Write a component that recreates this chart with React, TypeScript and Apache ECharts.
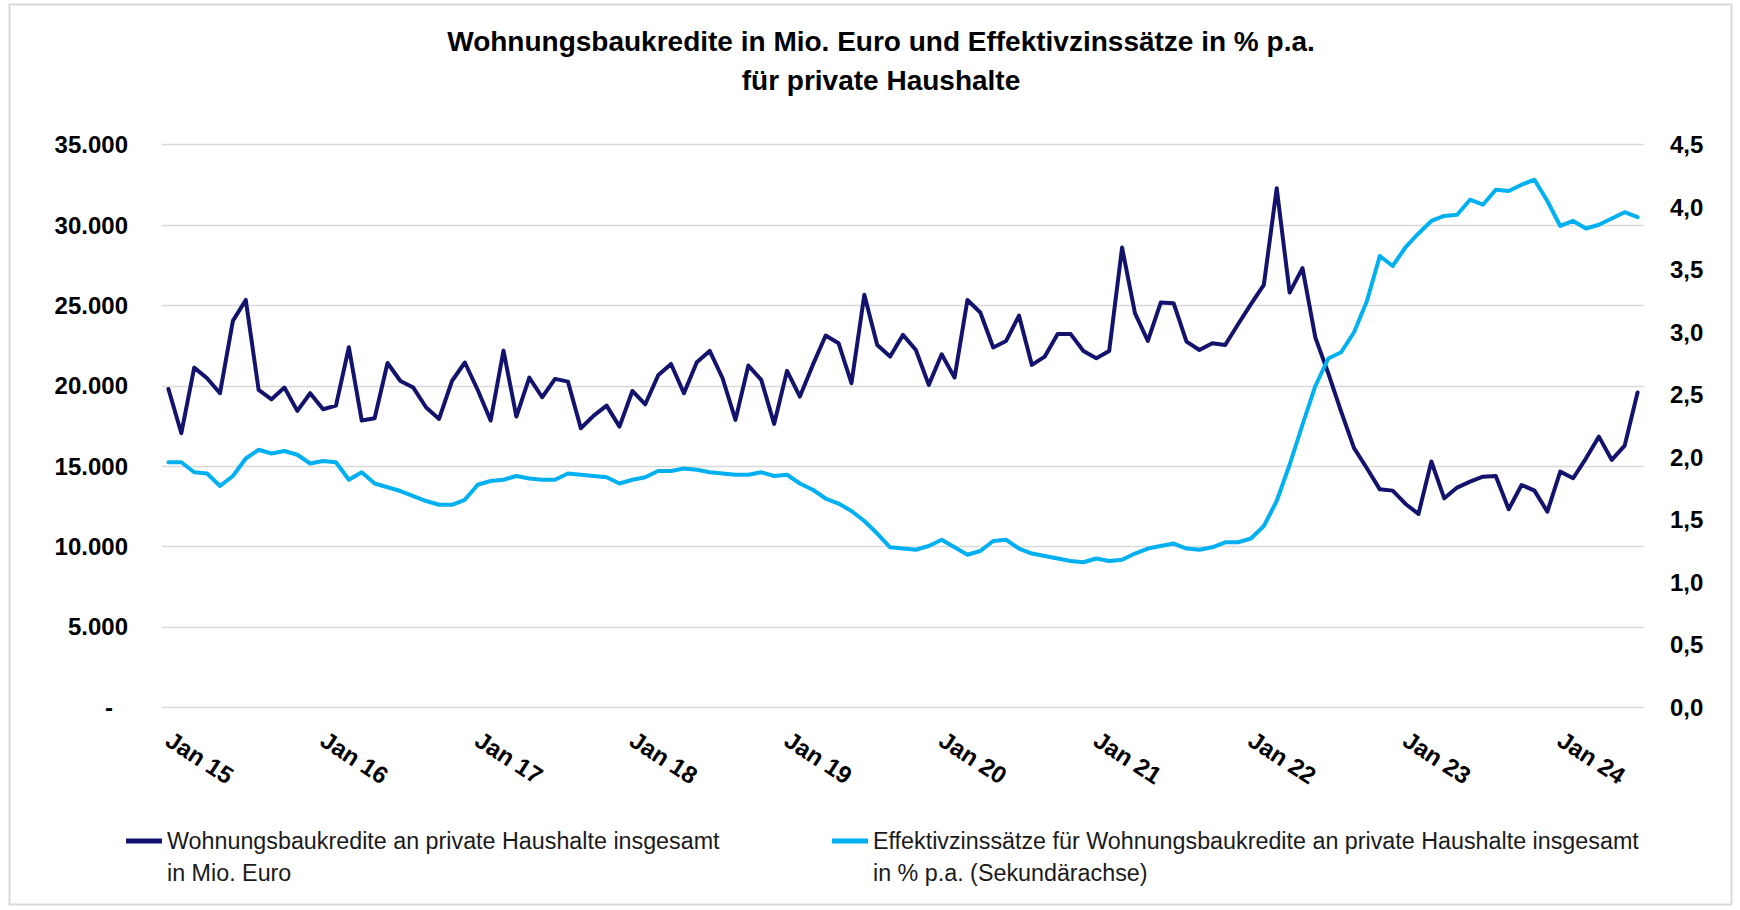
import React, { useEffect, useRef } from "react";
import * as echarts from "echarts";

// ---- Data ----
const monthNames = ["Jan", "Feb", "Mrz", "Apr", "Mai", "Jun", "Jul", "Aug", "Sep", "Okt", "Nov", "Dez"];
const yearLabels = ["15", "16", "17", "18", "19", "20", "21", "22", "23", "24"];
const lastYearMonths = 7; // Jan 24 .. Jul 24

const categories: string[] = [];
yearLabels.forEach((y, yi) => {
  const count = yi === yearLabels.length - 1 ? lastYearMonths : 12;
  for (let m = 0; m < count; m++) categories.push(`${monthNames[m]} ${y}`);
});

// Wohnungsbaukredite an private Haushalte insgesamt, Mio. Euro (Jan 15 – Jul 24)
const kredite: number[] = [
  19800, 17050, 21130, 20470, 19540, 24040, 25340, 19740, 19160, 19890, 18440, 19540,
  18540, 18770, 22400, 17840, 17980, 21420, 20300, 19890, 18650, 17940, 20300, 21450,
  19740, 17840, 22190, 18090, 20510, 19290, 20430, 20260, 17360, 18150, 18770, 17460,
  19680, 18850, 20650, 21360, 19540, 21470, 22170, 20470, 17880, 21260, 20370, 17630,
  20930, 19330, 21300, 23130, 22650, 20160, 25660, 22540, 21820, 23170, 22230, 20060,
  21960, 20510, 25340, 24560, 22380, 22790, 24370, 21300, 21820, 23230, 23230, 22170,
  21720, 22170, 28600, 24520, 22790, 25180, 25140, 22750, 22230, 22650, 22540, 23830,
  25080, 26280, 32290, 25800, 27320, 23000, 20780, 18400, 16120, 14870, 13560, 13480,
  12650, 12030, 15290, 13000, 13670, 14040, 14350, 14390, 12320, 13830, 13480, 12170,
  14660, 14250, 15490, 16840, 15390, 16280, 19580,
];

// Effektivzinssätze, % p.a. (Sekundärachse)
const zinsen: number[] = [
  1.96, 1.96, 1.88, 1.87, 1.77, 1.85, 1.99, 2.06, 2.03, 2.05, 2.02, 1.95,
  1.97, 1.96, 1.82, 1.88, 1.79, 1.76, 1.73, 1.69, 1.65, 1.62, 1.62, 1.66,
  1.78, 1.81, 1.82, 1.85, 1.83, 1.82, 1.82, 1.87, 1.86, 1.85, 1.84, 1.79,
  1.82, 1.84, 1.89, 1.89, 1.91, 1.90, 1.88, 1.87, 1.86, 1.86, 1.88, 1.85,
  1.86, 1.79, 1.74, 1.67, 1.63, 1.57, 1.49, 1.39, 1.28, 1.27, 1.26, 1.29,
  1.34, 1.28, 1.22, 1.25, 1.33, 1.34, 1.27, 1.23, 1.21, 1.19, 1.17, 1.16,
  1.19, 1.17, 1.18, 1.23, 1.27, 1.29, 1.31, 1.27, 1.26, 1.28, 1.32, 1.32,
  1.35, 1.45, 1.65, 1.94, 2.26, 2.57, 2.79, 2.84, 3.00, 3.25, 3.61, 3.53,
  3.68, 3.79, 3.89, 3.93, 3.94, 4.06, 4.02, 4.14, 4.13, 4.18, 4.22, 4.05,
  3.85, 3.89, 3.83, 3.86, 3.91, 3.96, 3.92,
];

const titleLines = [
  "Wohnungsbaukredite in Mio. Euro und Effektivzinssätze in % p.a.",
  "für private Haushalte",
];
const seriesOneLines = ["Wohnungsbaukredite an private Haushalte insgesamt", "in Mio. Euro"];
const seriesTwoLines = [
  "Effektivzinssätze für Wohnungsbaukredite an private Haushalte insgesamt",
  "in % p.a. (Sekundärachse)",
];

const nameOne = seriesOneLines.join(" ");
const nameTwo = seriesTwoLines.join(" ");

const DARK = "#13136e";
const LIGHT = "#00b0f0";
const GRID = "#d9d9d9";
const FONT = "'Liberation Sans', Arial, sans-serif";

function thousands(v: number): string {
  return String(Math.round(v)).replace(/\B(?=(\d{3})+(?!\d))/g, ".");
}

export default function App() {
  const ref = useRef<HTMLDivElement>(null);

  useEffect(() => {
    if (!ref.current) return;
    const chart = echarts.init(ref.current, undefined, { renderer: "svg" });

    const legendText = {
      fontFamily: FONT,
      fontSize: 23.3,
      color: "#1a1a1a",
      lineHeight: 32,
    };

    chart.setOption({
      animation: false,
      backgroundColor: "#ffffff",
      title: {
        text: titleLines.join("\n"),
        left: 881,
        top: 22,
        padding: 0,
        textAlign: "center",
        textStyle: {
          fontFamily: FONT,
          fontSize: 28,
          fontWeight: "bold",
          color: "#000",
          lineHeight: 39,
        },
      },
      graphic: [
        {
          type: "rect",
          shape: { x: 9.5, y: 4.5, width: 1722, height: 900 },
          style: { fill: "none", stroke: GRID, lineWidth: 2 },
          silent: true,
          z: -10,
        },
      ],
      legend: [
        {
          data: [nameOne],
          left: 126,
          top: 793,
          padding: 0,
          icon: "rect",
          itemWidth: 36,
          itemHeight: 5,
          textStyle: legendText,
          formatter: () => "\n" + seriesOneLines.join("\n"),
          selectedMode: false,
        },
        {
          data: [nameTwo],
          left: 832,
          top: 793,
          padding: 0,
          icon: "rect",
          itemWidth: 36,
          itemHeight: 5,
          textStyle: legendText,
          formatter: () => "\n" + seriesTwoLines.join("\n"),
          selectedMode: false,
        },
      ],
      grid: {
        left: 162,
        right: 96,
        top: 144.7,
        bottom: 202.7,
        containLabel: false,
      },
      xAxis: {
        type: "category",
        data: categories,
        boundaryGap: true,
        axisLine: { show: false },
        axisTick: { show: false },
        axisLabel: {
          interval: 11,
          rotate: -33,
          margin: 30,
          fontFamily: FONT,
          fontSize: 24,
          fontWeight: "bold",
          color: "#000",
        },
      },
      yAxis: [
        {
          type: "value",
          min: 0,
          max: 35000,
          interval: 5000,
          position: "left",
          axisLine: { show: false },
          axisTick: { show: false },
          splitLine: { show: true, lineStyle: { color: GRID, width: 1.3 } },
          axisLabel: {
            margin: 34,
            fontFamily: FONT,
            fontSize: 24,
            fontWeight: "bold",
            color: "#000",
            formatter: (v: number) => (v === 0 ? "{d|-}" : thousands(v)),
            rich: {
              d: {
                fontFamily: FONT,
                fontSize: 24,
                fontWeight: "bold",
                color: "#000",
                padding: [0, 15, 0, 0],
              },
            },
          },
        },
        {
          type: "value",
          min: 0,
          max: 4.5,
          interval: 0.5,
          position: "right",
          axisLine: { show: false },
          axisTick: { show: false },
          splitLine: { show: false },
          axisLabel: {
            margin: 26,
            fontFamily: FONT,
            fontSize: 24,
            fontWeight: "bold",
            color: "#000",
            formatter: (v: number) => v.toFixed(1).replace(".", ","),
          },
        },
      ],
      series: [
        {
          name: nameOne,
          type: "line",
          yAxisIndex: 0,
          data: kredite,
          showSymbol: false,
          symbol: "none",
          smooth: false,
          lineStyle: { color: DARK, width: 4, join: "round", cap: "round" },
          itemStyle: { color: DARK },
        },
        {
          name: nameTwo,
          type: "line",
          yAxisIndex: 1,
          data: zinsen,
          showSymbol: false,
          symbol: "none",
          smooth: false,
          lineStyle: { color: LIGHT, width: 4, join: "round", cap: "round" },
          itemStyle: { color: LIGHT },
        },
      ],
    });

    return () => chart.dispose();
  }, []);

  return (
    <div
      ref={ref}
      style={{ position: "absolute", left: 0, top: 0, width: 1740, height: 910 }}
    />
  );
}
